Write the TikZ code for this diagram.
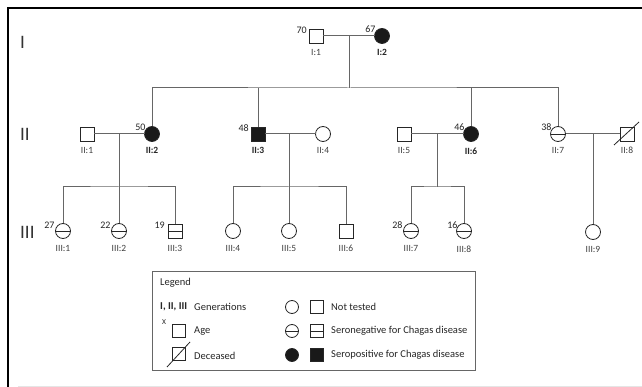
\documentclass[tikz,border=0pt]{standalone}
\usepackage{fontspec}
\setmainfont{Carlito}
\begin{document}
\begin{tikzpicture}[x=1pt,y=-1pt,
  sym/.style={draw=black!85, line width=0.8pt, inner sep=0pt, outer sep=0pt},
  sq/.style={sym, rectangle, minimum size=14pt},
  ci/.style={sym, circle, minimum size=15pt},
  lsq/.style={sym, rectangle, minimum size=13pt},
  lci/.style={sym, circle, minimum size=13pt},
  posfill/.style={fill=black!90},
  negline/.style={path picture={\draw[black!85,line width=0.8pt] (path picture bounding box.west) -- (path picture bounding box.east);}},
  conn/.style={draw=black!60, line width=1pt},
  lab/.style={font=\fontsize{9.5}{11}\selectfont, text=black!75, inner sep=0pt, anchor=north},
  blab/.style={lab, font=\fontsize{9.5}{11}\selectfont\bfseries, text=black!85},
  age/.style={font=\fontsize{10}{11}\selectfont, inner sep=0pt, text=black!85, anchor=south east},
  gen/.style={font=\fontsize{19}{21}\selectfont, inner sep=0pt, anchor=west, text=black!80},
  leg/.style={font=\fontsize{10.5}{12}\selectfont, inner sep=0pt, anchor=west, text=black!85}
]
\useasboundingbox (0,0) rectangle (642,387);
\fill[white] (0,0) rectangle (642,387);
% frame
\draw[line width=1.5pt] (8,387) -- (8,8) -- (642,8);
\draw[black!10, line width=1pt] (18,386.5) -- (642,386.5);

% generation labels
\node[gen] (g1) at (20,42) {I};
\node[gen] (g2) at (20,134) {II};
\node[gen] (g3) at (20,232) {III};

% generation I
\node[sq] (i1) at (316,36) {};
\node[ci,posfill] (i2) at (382,36) {};
% generation II
\node[sq] (ii1) at (87,134) {};
\node[ci,posfill] (ii2) at (152,134) {};
\node[sq,posfill] (ii3) at (258,134) {};
\node[ci] (ii4) at (323,134) {};
\node[sq] (ii5) at (404,134) {};
\node[ci,posfill] (ii6) at (471,134) {};
\node[ci,negline] (ii7) at (558,134) {};
\node[sq] (ii8) at (627,134) {};
\draw[black!85, line width=0.8pt] ([shift={(-13pt,-11pt)}]ii8.center) -- ([shift={(12pt,12pt)}]ii8.center);
% generation III
\node[ci,negline] (iii1) at (63,231) {};
\node[ci,negline] (iii2) at (119,231) {};
\node[sq,negline] (iii3) at (175,231) {};
\node[ci] (iii4) at (233,231) {};
\node[ci] (iii5) at (289,231) {};
\node[sq] (iii6) at (346,231) {};
\node[ci,negline] (iii7) at (411,231) {};
\node[ci,negline] (iii8) at (464,231) {};
\node[ci] (iii9) at (593,232) {};

% id labels
\node[lab] (li1) at ([yshift=-6pt]i1.south) {I:1};
\node[blab] (li2) at ([yshift=-6pt]i2.south) {I:2};
\node[lab] (lii1) at ([yshift=-6pt]ii1.south) {II:1};
\node[blab] (lii2) at ([yshift=-6pt]ii2.south) {II:2};
\node[blab] (lii3) at ([yshift=-6pt]ii3.south) {II:3};
\node[lab] (lii4) at ([yshift=-6pt]ii4.south) {II:4};
\node[lab] (lii5) at ([yshift=-6pt]ii5.south) {II:5};
\node[blab] (lii6) at ([yshift=-6pt]ii6.south) {II:6};
\node[lab] (lii7) at ([yshift=-6pt]ii7.south) {II:7};
\node[lab] (lii8) at ([yshift=-6pt]ii8.south) {II:8};
\node[lab] (liii1) at ([yshift=-7pt]iii1.south) {III:1};
\node[lab] (liii2) at ([yshift=-7pt]iii2.south) {III:2};
\node[lab] (liii3) at ([yshift=-7pt]iii3.south) {III:3};
\node[lab] (liii4) at ([yshift=-7pt]iii4.south) {III:4};
\node[lab] (liii5) at ([yshift=-7pt]iii5.south) {III:5};
\node[lab] (liii6) at ([yshift=-7pt]iii6.south) {III:6};
\node[lab] (liii7) at ([yshift=-7pt]iii7.south) {III:7};
\node[lab] (liii8) at ([yshift=-7pt]iii8.south) {III:8};
\node[lab] (liii9) at ([yshift=-7pt]iii9.south) {III:9};

% ages
\node[age] (a70) at ([shift={(-2pt,-5pt)}]i1.north west) {70};
\node[age] (a67) at ([shift={(-1pt,-2.5pt)}]i2.north west) {67};
\node[age] (a50) at ([shift={(-1pt,-2.5pt)}]ii2.north west) {50};
\node[age] (a48) at ([shift={(-2pt,-5pt)}]ii3.north west) {48};
\node[age] (a46) at ([shift={(-1pt,-2.5pt)}]ii6.north west) {46};
\node[age] (a38) at ([shift={(-1pt,-2.5pt)}]ii7.north west) {38};
\node[age] (a27) at ([shift={(-3pt,-3pt)}]iii1.north west) {27};
\node[age] (a22) at ([shift={(-3pt,-3pt)}]iii2.north west) {22};
\node[age] (a19) at ([shift={(-3pt,-5pt)}]iii3.north west) {19};
\node[age] (a28) at ([shift={(-3pt,-3pt)}]iii7.north west) {28};
\node[age] (a16) at ([shift={(-1pt,-3pt)}]iii8.north west) {16};

% connectors
\coordinate (m1) at (349,36); \coordinate (s1) at (349,88);
\draw[conn] (i1) -- (i2);
\draw[conn] (m1) -- (s1);
\draw[conn] (ii2.north) |- (s1) -| (ii7.north);
\draw[conn] (ii3.north) -- (ii3.north |- s1);
\draw[conn] (ii6.north) -- (ii6.north |- s1);

\coordinate (m2) at (119,134); \coordinate (s2) at (119,187);
\draw[conn] (ii1) -- (ii2);
\draw[conn] (m2) -- (iii2.north);
\draw[conn] (iii1.north) |- (s2) -| (iii3.north);

\coordinate (m3) at (289,134); \coordinate (s3) at (289,187);
\draw[conn] (ii3) -- (ii4);
\draw[conn] (m3) -- (iii5.north);
\draw[conn] (iii4.north) |- (s3) -| (iii6.north);

\coordinate (m4) at (437,134); \coordinate (s4) at (437,187);
\draw[conn] (ii5) -- (ii6);
\draw[conn] (m4) -- (s4);
\draw[conn] (iii7.north) |- (s4) -| (iii8.north);

\coordinate (m5) at (593,134);
\draw[conn] (ii7) -- (ii8);
\draw[conn] (m5) -- (iii9.north);

% legend
\draw[draw=black!60, line width=0.8pt] (152,271) rectangle (475,370);
\node[leg] (lg) at (160,283) {Legend};
\node[leg, font=\fontsize{10.5}{12}\selectfont\bfseries] (lgen) at (160,307) {I, II, III};
\node[leg] (lgent) at (194,307) {Generations};
\node[lsq] (lage) at (178.5,330.5) {};
\node[font=\fontsize{7.5}{8}\selectfont, inner sep=0pt, text=black!85] (lx) at (164,322) {X};
\node[leg] (laget) at (194,331) {Age};
\node[lsq] (ldec) at (178.5,354) {};
\draw[black!85, line width=0.8pt] ([shift={(-11.5pt,-13pt)}]ldec.center) -- ([shift={(11.5pt,12pt)}]ldec.center);
\node[leg] (ldect) at (194,356) {Deceased};
\node[lci] (lc1) at (292,307) {};
\node[lsq] (ls1) at (317,307) {};
\node[leg] (lt1) at (331,307) {Not tested};
\node[lci,negline] (lc2) at (292,331) {};
\node[lsq,negline] (ls2) at (317,331) {};
\node[leg] (lt2) at (331,331) {Seronegative for Chagas disease};
\node[lci,posfill] (lc3) at (292,355) {};
\node[lsq,posfill] (ls3) at (317,355) {};
\node[leg] (lt3) at (331,355) {Seropositive for Chagas disease};
\end{tikzpicture}
\end{document}
